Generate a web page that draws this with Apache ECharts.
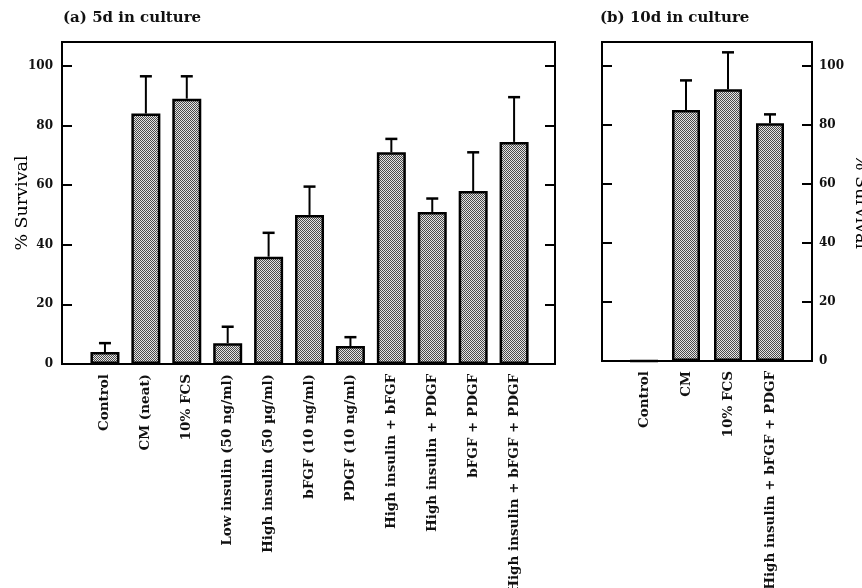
<!DOCTYPE html>
<html>
<head>
<meta charset="utf-8">
<script src="https://cdn.jsdelivr.net/npm/echarts@6/dist/echarts.min.js"></script>
<style>
html, body { margin: 0; padding: 0; background: #fff; }
#main { width: 862px; height: 588px; }
</style>
</head>
<body>
<div id="main"></div>
<script>
// (a) 5d in culture
var cats5 = ['Control', 'CM (neat)', '10% FCS', 'Low insulin (50 ng/ml)', 'High insulin (50 µg/ml)',
  'bFGF (10 ng/ml)', 'PDGF (10 ng/ml)', 'High insulin + bFGF', 'High insulin + PDGF',
  'bFGF + PDGF', 'High insulin + bFGF + PDGF'];
var mean5 = [4, 84, 89, 7, 36, 50, 6, 71, 51, 58, 74.5];
var sd5 = [3, 12.5, 7.5, 5.5, 8, 9.5, 3, 4.5, 4.5, 13, 15];

// (b) 10d in culture
var cats10 = ['Control', 'CM', '10% FCS', 'High insulin + bFGF + PDGF'];
var mean10 = [0, 85, 92, 80.5];
var sd10 = [0, 10, 12.5, 3];

var yTicks = [0, 20, 40, 60, 80, 100];

var FONT = 'DejaVu Serif';
var myChart = echarts.init(document.getElementById('main'));

// stipple fill like the printed bars
var pat = document.createElement('canvas');
pat.width = 4; pat.height = 4;
var ctx = pat.getContext('2d');
ctx.fillStyle = '#e4e4e4';
ctx.fillRect(0, 0, 4, 4);
ctx.fillStyle = '#4a4a4a';
for (var i = 0; i < 4; i++) {
  for (var j = 0; j < 4; j++) {
    if ((i + j) % 2 === 0) ctx.fillRect(i, j, 1, 1);
  }
}
var stipple = { image: pat, repeat: 'repeat' };

function barData(vals) {
  return vals.map(function (v, i) { return [i, v]; });
}
function errData(vals, sds) {
  return vals.map(function (v, i) { return [i, v, v + sds[i]]; });
}

function errItem(params, api) {
  var x = api.value(0), lo = api.value(1), hi = api.value(2);
  if (hi <= lo) return;
  var p0 = api.coord([x, lo]), p1 = api.coord([x, hi]);
  var w = 6;
  return {
    type: 'group',
    children: [
      { type: 'line', shape: { x1: p0[0], y1: p0[1], x2: p1[0], y2: p1[1] }, style: { stroke: '#000', lineWidth: 2 } },
      { type: 'line', shape: { x1: p1[0] - w, y1: p1[1], x2: p1[0] + w, y2: p1[1] }, style: { stroke: '#000', lineWidth: 2.5 } }
    ]
  };
}

function xAxisFor(idx, cats, lo, hi) {
  return {
    type: 'value', gridIndex: idx,
    min: lo, max: hi,
    splitLine: { show: false }, axisLine: { show: false, onZero: false }, axisTick: { show: false },
    axisLabel: {
      customValues: cats.map(function (c, k) { return k; }),
      rotate: 90, fontFamily: FONT, fontSize: 13.5, fontWeight: 'bold', color: '#111', margin: 10,
      formatter: function (v) { return cats[Math.round(v)] || ''; }
    }
  };
}

function yAxisFor(idx, pos, labels, name, nameRotate, nameGap) {
  return {
    type: 'value', gridIndex: idx, position: pos,
    min: 0, max: 108, interval: 20,
    name: name, nameLocation: 'middle', nameGap: nameGap, nameRotate: nameRotate, nameMoveOverlap: false,
    nameTextStyle: { fontFamily: FONT, fontSize: 17.5, color: '#000' },
    splitLine: { show: false }, axisLine: { show: false, onZero: false },
    axisTick: { show: true, inside: true, length: 10, lineStyle: { color: '#000', width: 2 } },
    axisLabel: {
      show: labels, fontFamily: FONT, fontSize: 12, fontWeight: 'bold', color: '#111', margin: pos === 'left' ? 9 : 7,
      showMaxLabel: false,
      formatter: function (v) { return yTicks.indexOf(v) >= 0 ? String(v) : ''; }
    }
  };
}

var titleStyle = { fontFamily: FONT, fontSize: 15, fontWeight: 'bold', color: '#111' };

var option = {
  backgroundColor: '#fff',
  animation: false,
  title: [
    { text: '(a) 5d in culture', left: 58, top: 6, textStyle: titleStyle },
    { text: '(b) 10d in culture', left: 595, top: 6, textStyle: titleStyle }
  ],
  grid: [
    { left: 62, right: 307, top: 42, bottom: 224, outerBoundsMode: 'none', show: true, borderColor: '#000', borderWidth: 2 },
    { left: 602, right: 50, top: 42, bottom: 227, outerBoundsMode: 'none', show: true, borderColor: '#000', borderWidth: 2 }
  ],
  xAxis: [xAxisFor(0, cats5, -1.05, 11), xAxisFor(1, cats10, -1, 4)],
  yAxis: [
    yAxisFor(0, 'left', true, '% Survival', 90, 31),
    yAxisFor(0, 'right', false, '', 0, 0),
    yAxisFor(1, 'left', false, '', 0, 0),
    yAxisFor(1, 'right', true, '% Survival', -90, 40)
  ],
  series: [
    {
      type: 'bar', xAxisIndex: 0, yAxisIndex: 0, barWidth: 29, data: barData(mean5),
      itemStyle: { color: stipple, borderColor: '#000', borderWidth: 2.5 }
    },
    {
      type: 'custom', xAxisIndex: 0, yAxisIndex: 0, z: 5, renderItem: errItem, data: errData(mean5, sd5)
    },
    {
      type: 'bar', xAxisIndex: 1, yAxisIndex: 3, barWidth: 28, data: barData(mean10),
      itemStyle: { color: stipple, borderColor: '#000', borderWidth: 2.5 }
    },
    {
      type: 'custom', xAxisIndex: 1, yAxisIndex: 3, z: 5, renderItem: errItem, data: errData(mean10, sd10)
    }
  ]
};

myChart.setOption(option);
window.onresize = myChart.resize;
</script>
</body>
</html>
